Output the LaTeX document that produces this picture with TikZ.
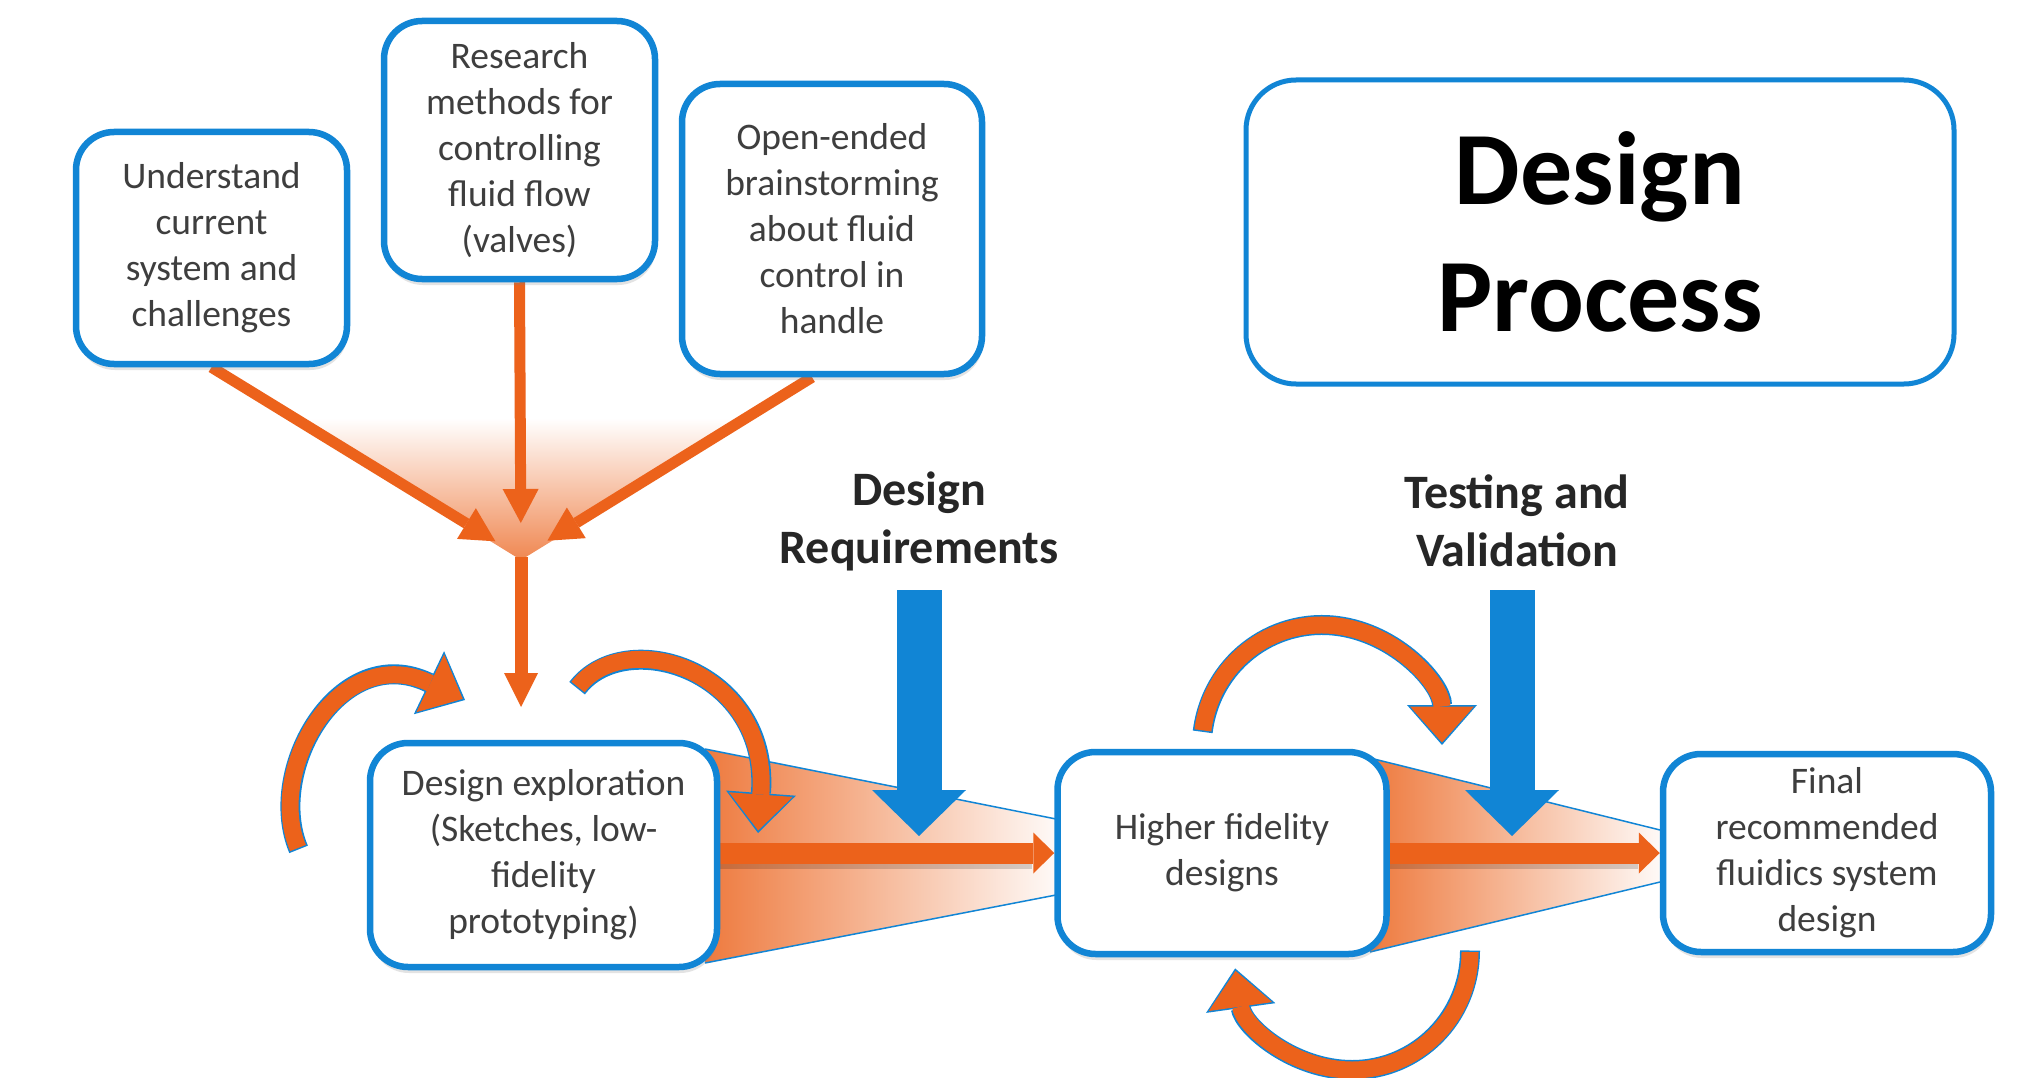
\documentclass[tikz,border=0pt]{standalone}
\usepackage{fontspec}
\setmainfont{Carlito}
\usetikzlibrary{arrows.meta,shadows}
\definecolor{myblue}{RGB}{17,133,213}
\definecolor{myorange}{RGB}{236,98,27}
\definecolor{fanorange}{RGB}{238,122,62}
\definecolor{txtgray}{RGB}{62,62,62}
\definecolor{lblgray}{RGB}{38,38,38}
\pgfdeclarelayer{bg}
\pgfdeclarelayer{behind}
\pgfsetlayers{bg,behind,main}
\begin{document}
\begin{tikzpicture}[x=1pt,y=-1pt,
  box/.style={draw=myblue, line width=6.5pt, fill=white, rounded corners=38pt,
    align=center, text=txtgray, font=\fontsize{37.5}{46}\selectfont, inner sep=0pt,
    drop shadow={shadow xshift=1pt, shadow yshift=-6pt, opacity=0.22}},
  titlebox/.style={draw=myblue, line width=5pt, fill=white, rounded corners=50pt,
    align=center, text=black, font=\bfseries\fontsize{104}{127}\selectfont, inner sep=0pt},
  lbl/.style={align=center, text=lblgray, font=\bfseries\fontsize{48}{58}\selectfont, inner sep=0pt},
  oarrow/.style={draw=myorange, line width=11pt, -{Triangle[length=34pt, width=36pt, line width=0pt]}},
  varrow/.style={draw=myorange, line width=13pt, -{Triangle[length=34pt, width=34pt, line width=0pt]}},
  harrow/.style={draw=myorange, line width=21pt, -{Triangle[length=21pt, width=41pt, line width=0pt]}},
  hshadow/.style={draw=black, opacity=0.16, line width=6pt},
  bluearrow/.style={draw=myblue, line width=45pt, -{Triangle[length=46pt, width=94pt, line width=0pt]}},
  carrow/.style={draw=myorange, line width=17pt, shorten >=2.5pt,
    -{Triangle[length=36pt, width=64pt, line width=0pt]},
    preaction={draw=myblue, line width=20pt, shorten >=0pt, shorten <=-1.5pt,
      -{Triangle[length=40pt, width=70pt, line width=0pt]}}},
  fanedge/.style={draw=myblue, line width=1.5pt}
]
\useasboundingbox (0,0) rectangle (2019,1078);

% nodes
\node[box, minimum width=271pt, minimum height=232pt] (und) at (211.5,248) {Understand\\current\\system and\\challenges};
\node[box, minimum width=271pt, minimum height=258pt] (res) at (519.5,150) {Research\\methods for\\controlling\\fluid flow\\(valves)};
\node[box, minimum width=300pt, minimum height=290pt] (open) at (832,229) {Open-ended\\brainstorming\\about fluid\\control in\\handle};
\node[titlebox, minimum width=708pt, minimum height=304pt] (title) at (1600,232) {Design\\Process};
\node[box, minimum width=347pt, minimum height=224pt] (expl) at (543.5,855) {Design exploration\\(Sketches, low-\\fidelity\\prototyping)};
\node[box, minimum width=329pt, minimum height=202pt] (high) at (1222,853) {Higher fidelity\\designs};
\node[box, minimum width=328pt, minimum height=198pt] (final) at (1827,853) {Final\\recommended\\fluidics system\\design};

\node[lbl] (req) at (919,521) {Design\\Requirements};
\node[lbl] (test) at (1517,521) {Testing and\\Validation};

\coordinate (apex) at (521,557);
\coordinate (vtip) at (521,707);
\coordinate (reqtop) at (919,590);
\coordinate (reqtip) at (919,836);
\coordinate (testtop) at (1512,590);
\coordinate (testtip) at (1512,836);

% background shapes
\begin{pgfonlayer}{bg}
  \fill[white] (0,0) rectangle (2019,1078);
  \shade[top color=white, bottom color=fanorange!90!white]
    (298,418) -- (742,418) -- (560,536) -- (521,560) -- (482,536) -- cycle;
  \shade[left color=fanorange, right color=fanorange!4!white]
    (705,749) -- (1056,819) -- (1056,895) -- (705,963) -- cycle;
  \draw[fanedge] (705,749) -- (1056,819);
  \draw[fanedge] (705,963) -- (1056,895);
  \shade[left color=fanorange, right color=fanorange!4!white]
    (1370,758) -- (1660,830) -- (1660,882) -- (1370,952) -- cycle;
  \draw[fanedge] (1370,758) -- (1660,830);
  \draw[fanedge] (1370,952) -- (1660,882);
\end{pgfonlayer}

% connectors behind boxes
\begin{pgfonlayer}{behind}
  \draw[oarrow, shorten >=30pt] (und.south) -- (apex);
  \draw[oarrow, shorten >=34pt] (res.south) -- (apex);
  \draw[oarrow, shorten >=31pt] ([xshift=-20pt]open.south) -- (apex);
  \draw[varrow] (apex) -- (vtip);
  \draw[hshadow] ([yshift=-13pt]expl.east |- high.west) -- ([xshift=-22pt,yshift=-13pt]high.west);
  \draw[hshadow] ([yshift=-13pt]high.east |- final.west) -- ([xshift=-22pt,yshift=-13pt]final.west);
  \draw[harrow] (expl.east |- high.west) -- (high.west);
  \draw[harrow] (high.east |- final.west) -- (final.west);
\end{pgfonlayer}

% blue arrows
\draw[bluearrow] (reqtop) -- (reqtip);
\draw[bluearrow] (testtop) -- (testtip);

% curved arrows
\draw[carrow] (298,848) .. controls (265,770) and (340,640) .. (465,700);
\draw[carrow] (578,687) .. controls (625,625) and (770,670) .. (758,833);
\draw[carrow] (1322,745) ++(-173:120) arc[start angle=-173, end angle=0, radius=120];
\draw[carrow] (1352,952) ++(0:118) arc[start angle=0, end angle=172, radius=118];
\end{tikzpicture}
\end{document}
